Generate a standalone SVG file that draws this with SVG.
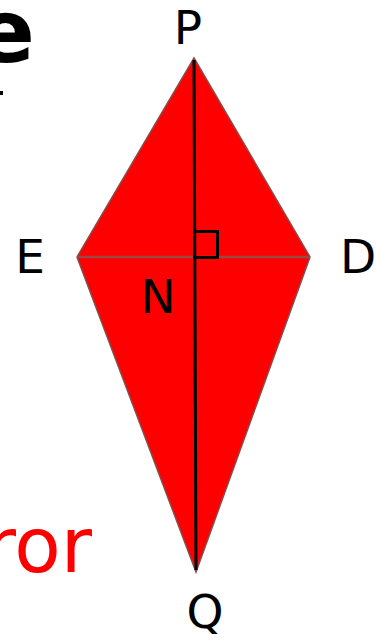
<svg xmlns="http://www.w3.org/2000/svg" width="376" height="642" viewBox="0 0 376 642">
<style>
.lbl{font-family:"DejaVu Sans","Liberation Sans",sans-serif;font-size:47px;fill:#000}
</style>
<rect width="376" height="642" fill="#fff"/>
<text x="35" y="62" text-anchor="end" style="font-family:'DejaVu Sans',sans-serif;font-size:88px;font-weight:bold;fill:#000">e</text>
<rect x="0" y="91" width="3" height="4" fill="#000"/>
<text x="92" y="572" text-anchor="end" style="font-family:'DejaVu Sans',sans-serif;font-size:76px;fill:#ff0000">ror</text>
<g id="kite">
<polygon points="194,58 310,257 196,572 77,257" fill="#ff0000" stroke="#8a4a4a" stroke-width="1.5" stroke-linejoin="miter"/>
</g>
<g id="connectors">
<line x1="77" y1="257" x2="310" y2="257" stroke="#9a4848" stroke-width="2.5"/>
<line x1="194" y1="60" x2="196" y2="570" stroke="#000" stroke-width="3"/>
<rect x="194.5" y="231.5" width="23" height="26" fill="none" stroke="#000" stroke-width="3"/>
</g>
<g id="P"><text class="lbl" x="188" y="44" text-anchor="middle">P</text></g>
<g id="E"><text class="lbl" x="30" y="273" text-anchor="middle">E</text></g>
<g id="D"><text class="lbl" x="358" y="273" text-anchor="middle">D</text></g>
<g id="N"><text class="lbl" x="158" y="313" text-anchor="middle">N</text></g>
<g id="Q"><text class="lbl" x="205" y="628" text-anchor="middle">Q</text></g>
</svg>
